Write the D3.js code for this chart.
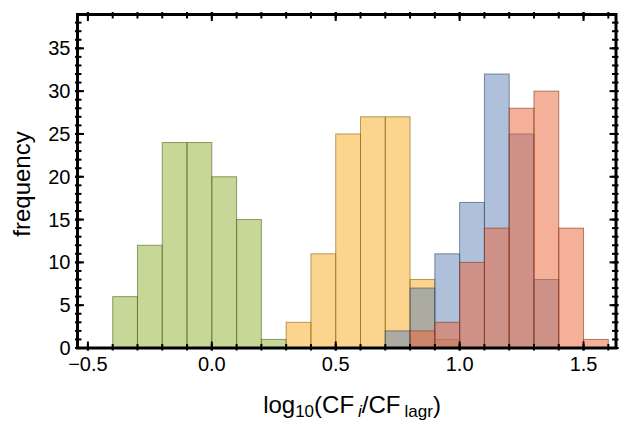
<!DOCTYPE html>
<html>
<head>
<meta charset="utf-8">
<script src="https://cdn.jsdelivr.net/npm/d3@7"></script>
<style>
  html, body { margin: 0; padding: 0; background: #fff; }
  svg { display: block; }
  text { font-family: "Liberation Sans", Arial, sans-serif; fill: #000; }
</style>
</head>
<body>
<svg id="chart" width="621" height="423"></svg>
<script>
// Histogram bins: lower edge of each bin, all bins are 0.1 wide
const binStarts = [-0.4, -0.3, -0.2, -0.1, 0.0, 0.1, 0.2, 0.3, 0.4, 0.5,
                   0.6, 0.7, 0.8, 0.9, 1.0, 1.1, 1.2, 1.3, 1.4, 1.5];
const binWidth = 0.1;

// Counts per bin for each data set
const greenCounts  = [6, 12, 24, 24, 20, 15, 1, 0, 0, 0, 0, 0, 0, 0, 0, 0, 0, 0, 0, 0];
const orangeCounts = [0, 0, 0, 0, 0, 0, 0, 3, 11, 25, 27, 27, 8, 1, 0, 0, 0, 0, 0, 0];
const blueCounts   = [0, 0, 0, 0, 0, 0, 0, 0, 0, 0, 0, 2, 7, 11, 17, 32, 25, 8, 0, 0];
const redCounts    = [0, 0, 0, 0, 0, 0, 0, 0, 0, 0, 0, 0, 2, 3, 10, 14, 28, 30, 14, 1];

// Axis ticks
const xMajorTicks = [-0.5, 0.0, 0.5, 1.0, 1.5];
const xTickLabels = ["\u22120.5", "0.0", "0.5", "1.0", "1.5"];
const yMajorTicks = [0, 5, 10, 15, 20, 25, 30, 35];

const seriesList = [
  { counts: greenCounts,  color: "#8FB032" },
  { counts: orangeCounts, color: "#F7AB1D" },
  { counts: blueCounts,   color: "#5E81B5" },
  { counts: redCounts,    color: "#EB6235" }
];

const svg = d3.select("#chart");
const frame = { left: 77.5, right: 616, top: 14.5, bottom: 348 };

const x = d3.scaleLinear().domain([-0.542, 1.631]).range([frame.left, frame.right]);
const y = d3.scaleLinear().domain([0, 38.95]).range([frame.bottom, frame.top]);

// Bars, one layer per data set, semi-transparent so overlaps mix
const plot = svg.append("g");
seriesList.forEach(s => {
  const bins = binStarts.map((b, i) => ({ x0: b, x1: b + binWidth, n: s.counts[i] }))
                        .filter(d => d.n > 0);
  const edge = d3.color(s.color).darker(1.6);
  plot.append("g").selectAll("rect").data(bins).join("rect")
    .attr("x", d => x(d.x0))
    .attr("y", d => y(d.n))
    .attr("width", d => x(d.x1) - x(d.x0))
    .attr("height", d => y(0) - y(d.n))
    .attr("fill", s.color)
    .attr("fill-opacity", 0.5)
    .attr("stroke", edge)
    .attr("stroke-opacity", 0.6)
    .attr("stroke-width", 1);
});

// Minor tick positions
const xMinor = d3.range(-5, 17).map(k => k / 10);
const yMinor = d3.range(0, 39);

// Frame ticks (inward, crossing the frame line)
const ticks = svg.append("g").attr("stroke", "#000");
function hTicks(vals, yy, dir, len) {
  ticks.append("g").selectAll("line").data(vals).join("line")
    .attr("x1", d => x(d)).attr("x2", d => x(d))
    .attr("y1", yy + dir * 2.5).attr("y2", yy - dir * len)
    .attr("stroke-width", 2);
}
function vTicks(vals, xx, dir, len) {
  ticks.append("g").selectAll("line").data(vals).join("line")
    .attr("y1", d => y(d)).attr("y2", d => y(d))
    .attr("x1", xx - dir * 2.5).attr("x2", xx + dir * len)
    .attr("stroke-width", 2);
}
hTicks(xMinor, frame.bottom, 1, 4);
hTicks(xMajorTicks, frame.bottom, 1, 6.5);
hTicks(xMinor, frame.top, -1, 4);
hTicks(xMajorTicks, frame.top, -1, 6.5);
vTicks(yMinor, frame.left, 1, 4);
vTicks(yMajorTicks, frame.left, 1, 6.5);
vTicks(yMinor, frame.right, -1, 4);
vTicks(yMajorTicks, frame.right, -1, 6.5);

// Frame
svg.append("rect")
  .attr("x", frame.left).attr("y", frame.top)
  .attr("width", frame.right - frame.left)
  .attr("height", frame.bottom - frame.top)
  .attr("fill", "none").attr("stroke", "#000").attr("stroke-width", 3);

// Tick labels
svg.append("g").selectAll("text").data(xMajorTicks).join("text")
  .attr("x", d => x(d)).attr("y", frame.bottom + 23)
  .attr("text-anchor", "middle").attr("font-size", 20)
  .text((d, i) => xTickLabels[i]);

svg.append("g").selectAll("text").data(yMajorTicks).join("text")
  .attr("x", frame.left - 7).attr("y", d => y(d) + 7)
  .attr("text-anchor", "end").attr("font-size", 20)
  .text(d => d);

// Axis titles
const xt = svg.append("text")
  .attr("x", 352).attr("y", 413)
  .attr("text-anchor", "middle").attr("font-size", 24);
xt.append("tspan").text("log");
xt.append("tspan").attr("font-size", 17).attr("dy", 4).text("10");
xt.append("tspan").attr("dy", -4).text("(CF");
xt.append("tspan").attr("font-size", 17).attr("dy", 4).attr("dx", 4)
  .attr("font-style", "italic").text("i");
xt.append("tspan").attr("dy", -4).text("/CF");
xt.append("tspan").attr("font-size", 17).attr("dy", 4).attr("dx", 4).text("lagr");
xt.append("tspan").attr("dy", -4).text(")");

svg.append("text")
  .attr("transform", "translate(30,184) rotate(-90)")
  .attr("text-anchor", "middle").attr("font-size", 24)
  .text("frequency");
</script>
</body>
</html>
